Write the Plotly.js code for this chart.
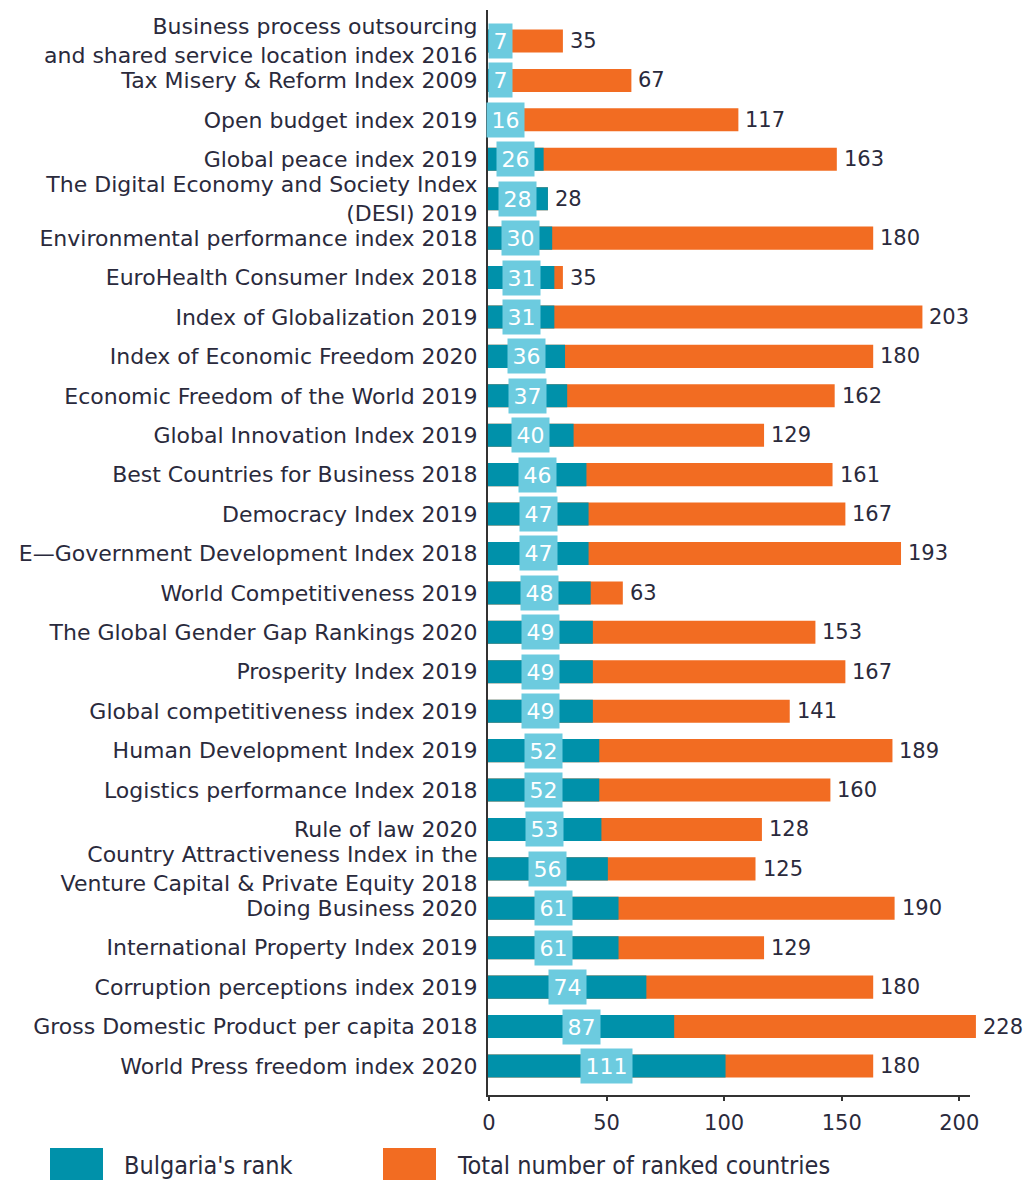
<!DOCTYPE html>
<html>
<head>
<meta charset="utf-8">
<script src="https://cdn.plot.ly/plotly-3.0.1.min.js"></script>
<style>html,body{margin:0;padding:0;background:#fff;}#chart{width:1031px;height:1180px;}</style>
</head>
<body>
<div id="chart"></div>
<script>
const categories = [
  "Business process outsourcing<br>and shared service location index 2016",
  "Tax Misery & Reform Index 2009",
  "Open budget index 2019",
  "Global peace index 2019",
  "The Digital Economy and Society Index<br>(DESI) 2019",
  "Environmental performance index 2018",
  "EuroHealth Consumer Index 2018",
  "Index of Globalization 2019",
  "Index of Economic Freedom 2020",
  "Economic Freedom of the World 2019",
  "Global Innovation Index 2019",
  "Best Countries for Business 2018",
  "Democracy Index 2019",
  "E\u2014Government Development Index 2018",
  "World Competitiveness 2019",
  "The Global Gender Gap Rankings 2020",
  "Prosperity Index 2019",
  "Global competitiveness index 2019",
  "Human Development Index 2019",
  "Logistics performance Index 2018",
  "Rule of law 2020",
  "Country Attractiveness Index in the<br>Venture Capital & Private Equity 2018",
  "Doing Business 2020",
  "International Property Index 2019",
  "Corruption perceptions index 2019",
  "Gross Domestic Product per capita 2018",
  "World Press freedom index 2020"
];
const bulgariaRank = [7, 7, 16, 26, 28, 30, 31, 31, 36, 37, 40, 46, 47, 47, 48, 49, 49, 49, 52, 52, 53, 56, 61, 61, 74, 87, 111];
const totalRanked = [35, 67, 117, 163, 28, 180, 35, 203, 180, 162, 129, 161, 167, 193, 63, 153, 167, 141, 189, 160, 128, 125, 190, 129, 180, 228, 180];
const xTicks = [0, 50, 100, 150, 200];
const legendNames = ["Bulgaria's rank", "Total number of ranked countries"];

const TEAL = "#0091aa", ORANGE = "#f26c22", BOX = "#6ccbdf", TXT = "#2a2a3c", AX = "#333333";
const FONT = "DejaVu Sans, Liberation Sans, sans-serif";
const W = 1031, H = 1180, ML = 488, MR = 41, MT = 10, MB = 84;
const PW = W - ML - MR, PH = H - MT - MB;
const px2paperX = p => (p - ML) / PW;
const px2paperY = p => (H - MB - p) / PH;
const AXIS_PX = 2.3515, BAR_PX = 2.14;

const traces = [
  // anchor trace for the tick axis (draws nothing)
  { type: "scatter", mode: "none", x: [0], y: [categories[0]], xaxis: "x", yaxis: "y", hoverinfo: "skip", showlegend: false },
  { type: "bar", orientation: "h", name: legendNames[1], y: categories, x: totalRanked,
    xaxis: "x2", marker: { color: ORANGE }, width: 0.585, hoverinfo: "x+y", showlegend: false },
  { type: "bar", orientation: "h", name: legendNames[0], y: categories, x: bulgariaRank,
    xaxis: "x2", marker: { color: TEAL }, width: 0.585, hoverinfo: "x+y", showlegend: false }
];

const annotations = [];
categories.forEach((c, i) => {
  const r = bulgariaRank[i];
  const small = r < 12;
  annotations.push({ xref: "x2", yref: "y", x: small ? 0 : r / 2, y: c, xanchor: small ? "left" : "center",
    yanchor: "middle", text: String(r), showarrow: false, bgcolor: BOX, borderpad: 4.5,
    font: { family: FONT, size: 22, color: "#ffffff" } });
  annotations.push({ xref: "x2", yref: "y", x: totalRanked[i], y: c, xanchor: "left", yanchor: "middle",
    xshift: 5, text: String(totalRanked[i]), showarrow: false,
    font: { family: FONT, size: 21, color: TXT } });
});

const shapes = [
  // x axis line (stops at 970px like the reference)
  { type: "line", xref: "paper", yref: "paper", x0: px2paperX(486), x1: px2paperX(970), y0: 0, y1: 0,
    line: { color: AX, width: 2 }, layer: "above" },
  // legend swatches
  { type: "rect", xref: "paper", yref: "paper", x0: px2paperX(50), x1: px2paperX(103), y0: px2paperY(1148), y1: px2paperY(1182),
    fillcolor: TEAL, line: { width: 0 } },
  { type: "rect", xref: "paper", yref: "paper", x0: px2paperX(383), x1: px2paperX(436), y0: px2paperY(1148), y1: px2paperY(1182),
    fillcolor: ORANGE, line: { width: 0 } }
];
annotations.push({ xref: "paper", yref: "paper", x: px2paperX(122), y: px2paperY(1165), xanchor: "left", yanchor: "middle",
  text: legendNames[0], showarrow: false, font: { family: "DejaVu Sans Condensed, " + FONT, size: 25, color: TXT } });
annotations.push({ xref: "paper", yref: "paper", x: px2paperX(455), y: px2paperY(1165), xanchor: "left", yanchor: "middle",
  text: legendNames[1], showarrow: false, font: { family: "DejaVu Sans Condensed, " + FONT, size: 25, color: TXT } });

const layout = {
  width: W, height: H,
  margin: { l: ML, r: MR, t: MT, b: MB, pad: 0 },
  paper_bgcolor: "#ffffff", plot_bgcolor: "#ffffff",
  barmode: "overlay",
  showlegend: false,
  font: { family: FONT, color: TXT },
  xaxis: { range: [-1 / AXIS_PX, (PW - 1) / AXIS_PX], tickvals: xTicks, ticktext: xTicks.map(String),
    showgrid: false, zeroline: false, showline: false,
    ticks: "outside", ticklen: 4, tickwidth: 2, tickcolor: AX, ticklabelstandoff: 4,
    tickfont: { family: FONT, size: 21, color: TXT }, fixedrange: true },
  xaxis2: { overlaying: "x", range: [0, PW / BAR_PX], visible: false, fixedrange: true },
  yaxis: { type: "category", categoryorder: "array", categoryarray: categories,
    range: [26.761, -0.786], showgrid: false, zeroline: false, showline: true, linecolor: AX, linewidth: 2,
    layer: "below traces", ticks: "", ticklabelstandoff: 4,
    tickfont: { family: FONT, size: 22, color: TXT }, fixedrange: true },
  annotations: annotations,
  shapes: shapes
};

Plotly.newPlot("chart", traces, layout, { displayModeBar: false, staticPlot: true });
</script>
</body>
</html>
